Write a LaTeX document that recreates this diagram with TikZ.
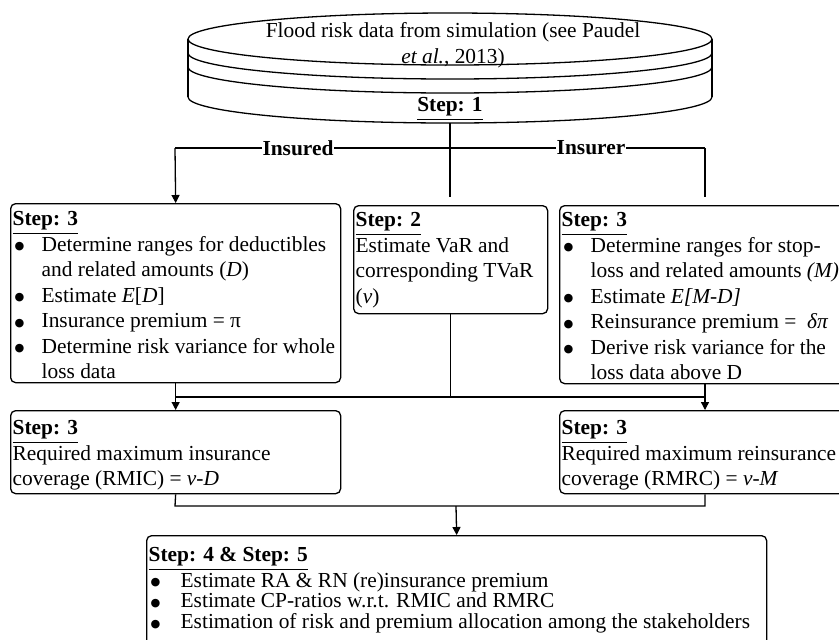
\documentclass[tikz,border=0pt]{standalone}
\usepackage{fontspec}
\setmainfont{Liberation Serif}
\newfontfamily\dejavu{DejaVu Sans}
\usetikzlibrary{arrows.meta}
\newlength\px \setlength\px{0.5pt}
\newcommand\bdot{\raisebox{0.6pt}{\dejavu\fontsize{5.6}{5.6}\selectfont ●}}
\newcommand\bitem[2][29]{\par\hangindent=#1\px\hangafter=1\noindent\makebox[#1\px][l]{\hspace{2\px}\bdot}#2}
\newcommand\stp[1]{\underline{\textbf{#1}}}
\newcommand\bxc[4][22]{\parbox[t][#3\px][t]{#2\px}{\raggedright\rule{0pt}{#1\px}#4}}
\tikzset{
  box/.style={draw, rounded corners=2.5pt, line width=0.65pt, inner xsep=2\px, inner ysep=0pt, anchor=north west},
  conn/.style={line width=0.65pt},
  arr/.style={line width=0.65pt, -{Triangle[length=4pt,width=4pt]}},
  lab/.style={fill=white, inner xsep=0.5pt, inner ysep=1pt, font=\fontsize{10.7}{12.75}\selectfont\bfseries},
}
\begin{document}
\begin{tikzpicture}[x=0.5pt, y=-0.5pt, font=\fontsize{10.7}{12.75}\selectfont]
\useasboundingbox (0,0) rectangle (839,639);
\clip (0,0) rectangle (839,639);
\fill[white] (0,0) rectangle (839,639);
% disk
\draw[conn] (450,39) ellipse [x radius=131pt, y radius=13pt];
\foreach \yy in {53,67,97} {
  \draw[conn] (188,\yy) arc[start angle=180, end angle=360, x radius=131pt, y radius=13pt];
}
\draw[conn] (188,39) -- (188,97);
\draw[conn] (712,39) -- (712,97);
\node[align=center, inner sep=0pt] (disktxt) at (453,45) {Flood risk data from simulation (see Paudel\\ \textit{et al.}, 2013)};
\node[inner sep=0pt] (step1) at (450,109) {\stp{Step: 1}};
% boxes
\node[box] (l3) at (10,203) {\bxc{326}{179}{\stp{Step: 3}%
  \bitem{Determine ranges for deductibles\newline and related amounts (\textit{D})}%
  \bitem{Estimate \textit{E}[\textit{D}]}%
  \bitem{Insurance premium = π}%
  \bitem{Determine risk variance for whole\newline loss data}}};
\node[box] (s2) at (353,205) {\bxc[21]{190}{108}{\stp{Step: 2}\\ Estimate VaR and\\ corresponding TVaR\\ (\textit{v})}};
\node[box] (r3) at (559,205) {\bxc[21]{300}{178}{\stp{Step: 3}%
  \bitem{Determine ranges for stop-\newline loss and related amounts \textit{(M)}}%
  \bitem{Estimate \textit{E[M-D]}}%
  \bitem{Reinsurance premium = \ \textit{δπ}}%
  \bitem{Derive risk variance for the\newline loss data above D}}};
\node[box] (l3b) at (10,410) {\bxc[24]{326}{83}{\stp{Step: 3}\\ Required maximum insurance\\ coverage (RMIC) = \textit{v-D}}};
\node[box] (r3b) at (559,410) {\bxc[24]{300}{83}{\stp{Step: 3}\\ Required maximum reinsurance\\ coverage (RMRC) = \textit{v-M}}};
\node[box] (s45) at (146,535) {\bxc[26]{616}{140}{\fontsize{10.7}{10.4}\selectfont\stp{Step: 4 \& Step: 5}%
  \bitem[32]{Estimate RA \& RN (re)insurance premium}%
  \bitem[32]{Estimate CP-ratios w.r.t. RMIC and RMRC}%
  \bitem[32]{Estimation of risk and premium allocation among the stakeholders}}};
% top connectors
\coordinate (diskbot) at (450,123);
\coordinate (jl) at (175,148);
\coordinate (jr) at (705,148);
\coordinate (s2in) at (450,197);
\coordinate (r3in) at (705,197);
\draw[conn] (diskbot) -- (s2in);
\draw[conn] (jl) -- (jr);
\draw[arr] (jl) -- (l3.north);
\draw[conn] (jr) -- (r3in);
\node[lab] (insd) at (298,148) {Insured};
\node[lab] (insr) at (591,148) {Insurer};
% middle connectors
\coordinate (ml) at (175,397);
\coordinate (mr) at (705,397);
\draw[arr] (l3.south) -- (l3b.north);
\draw[conn] (s2.south) -- (s2.south |- ml);
\draw[conn] (ml) -- (mr);
\draw[arr] (r3.south west -| mr) -- (r3b.north west -| mr);
% bottom connectors
\coordinate (bl) at (175,506);
\coordinate (br) at (705,506);
\coordinate (bc) at (456,506);
\draw[conn] (l3b.south) -- (bl) -- (br) -- (r3b.south west -| br);
\draw[arr] (bc) -- (s45.north);
\end{tikzpicture}
\end{document}
